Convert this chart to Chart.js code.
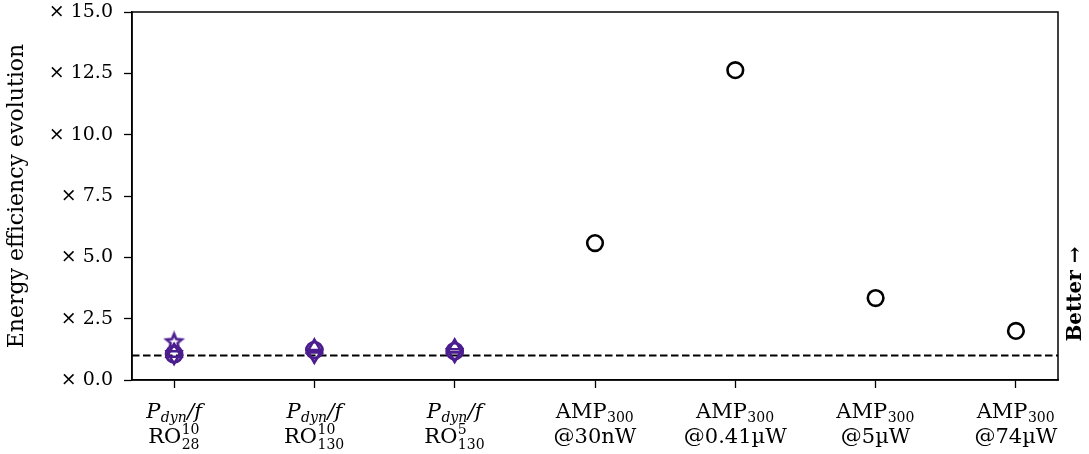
<!DOCTYPE html>
<html>
<head>
<meta charset="utf-8">
<script src="https://cdn.jsdelivr.net/npm/chart.js@4/dist/chart.umd.min.js"></script>
<style>
html,body{margin:0;padding:0;background:#fff;}
#wrap{width:1089px;height:454px;}
</style>
</head>
<body>
<div id="wrap"><canvas id="c" width="1089" height="454"></canvas></div>
<script>
// ---------- data ----------
const xPositions = [0, 1, 2, 3, 4, 5, 6];
// "$" toggles italic, _{..} subscript, ^{..} superscript, "|" separates the two lines
const categories = [
  '$P_{dyn}/f$|RO^{10}_{28}',
  '$P_{dyn}/f$|RO^{10}_{130}',
  '$P_{dyn}/f$|RO^{5}_{130}',
  'AMP_{300}|@30nW',
  'AMP_{300}|@0.41µW',
  'AMP_{300}|@5µW',
  'AMP_{300}|@74µW'
];
const ampValues   = [null, null, null, 5.58, 12.63, 3.34, 2.0];
const roCircle    = [1.05, 1.22, 1.18];
const roStar      = [1.55, null, null];
const roTriUp     = [1.12, 1.30, 1.30];
const roTriDown   = [1.00, 1.05, 1.08];
const baselineValue = 1.0;
const yTickValues = [0, 2.5, 5, 7.5, 10, 12.5, 15];
const yTitle = 'Energy efficiency evolution';
const betterText = 'Better →';

// ---------- styling ----------
const FONT = "'DejaVu Serif', 'Liberation Serif', serif";
const PURPLE = '#4b1d8f';

function toXY(arr) {
  const out = [];
  arr.forEach((v, i) => { if (v !== null) out.push({x: xPositions[i], y: v}); });
  return out;
}

function starCanvas(r, color, lw) {
  const s = Math.ceil(2 * r + lw + 4);
  const c = document.createElement('canvas');
  c.width = s; c.height = s;
  const g = c.getContext('2d');
  g.strokeStyle = color; g.lineWidth = lw; g.lineJoin = 'miter';
  g.beginPath();
  for (let k = 0; k < 10; k++) {
    const a = -Math.PI / 2 + k * Math.PI / 5;
    const rr = (k % 2) ? r * 0.45 : r;
    const px = s / 2 + rr * Math.cos(a), py = s / 2 + rr * Math.sin(a);
    if (k) g.lineTo(px, py); else g.moveTo(px, py);
  }
  g.closePath(); g.stroke();
  return c;
}

// rich text parsing for x labels
function parseLine(str) {
  const segs = [];
  let italic = false, i = 0, buf = '';
  const flush = () => { if (buf) { segs.push({t: buf, italic, kind: 'n'}); buf = ''; } };
  while (i < str.length) {
    const ch = str[i];
    if (ch === '$') { flush(); italic = !italic; i++; continue; }
    if ((ch === '_' || ch === '^') && str[i + 1] === '{') {
      flush();
      const end = str.indexOf('}', i);
      const txt = str.slice(i + 2, end);
      const kind = ch === '_' ? 'sub' : 'sup';
      const last = segs[segs.length - 1];
      if (last && last.kind === 'script') { last[kind] = {t: txt, italic}; }
      else segs.push({kind: 'script', [kind]: {t: txt, italic}});
      i = end + 1; continue;
    }
    buf += ch; i++;
  }
  flush();
  return segs;
}

const MAIN_SIZE = 21, SCRIPT_SIZE = 14;
function fontStr(size, italic) { return (italic ? 'italic ' : '') + size + 'px ' + FONT; }
function segWidth(ctx, s) {
  if (s.kind === 'n') { ctx.font = fontStr(MAIN_SIZE, s.italic); return ctx.measureText(s.t).width; }
  let w = 0;
  ['sub', 'sup'].forEach(k => { if (s[k]) { ctx.font = fontStr(SCRIPT_SIZE, s[k].italic); w = Math.max(w, ctx.measureText(s[k].t).width); } });
  return w + 1;
}
function drawRich(ctx, str, cx, baseline) {
  const segs = parseLine(str);
  const total = segs.reduce((a, s) => a + segWidth(ctx, s), 0);
  let x = cx - total / 2;
  ctx.textAlign = 'left'; ctx.textBaseline = 'alphabetic'; ctx.fillStyle = '#000';
  segs.forEach(s => {
    const w = segWidth(ctx, s);
    if (s.kind === 'n') { ctx.font = fontStr(MAIN_SIZE, s.italic); ctx.fillText(s.t, x, baseline); }
    else {
      const both = s.sub && s.sup;
      if (s.sub) { ctx.font = fontStr(SCRIPT_SIZE, s.sub.italic); ctx.fillText(s.sub.t, x + 0.5, baseline + (both ? 6 : 4)); }
      if (s.sup) { ctx.font = fontStr(SCRIPT_SIZE, s.sup.italic); ctx.fillText(s.sup.t, x + 0.5, baseline - 9); }
    }
    x += w;
  });
}

const decorPlugin = {
  id: 'decor',
  afterDraw(chart) {
    const {ctx, chartArea: a, scales} = chart;
    ctx.save();
    // frame (top and right spines)
    ctx.strokeStyle = '#000'; ctx.lineWidth = 1.5;
    ctx.strokeRect(a.left, a.top, a.right - a.left, a.bottom - a.top);
    // x labels
    categories.forEach((c, i) => {
      const px = scales.x.getPixelForValue(xPositions[i]);
      const lines = c.split('|');
      drawRich(ctx, lines[0], px, 418);
      drawRich(ctx, lines[1], px, 443);
    });
    // "Better →"
    ctx.translate(1076, 294);
    ctx.rotate(-Math.PI / 2);
    ctx.font = 'bold 20px ' + FONT;
    ctx.fillStyle = '#000';
    ctx.textAlign = 'center'; ctx.textBaseline = 'middle';
    ctx.fillText(betterText, 0, 0);
    ctx.restore();
  }
};

const tickGrid = {display: true, drawOnChartArea: false, drawTicks: true, tickLength: 8, tickWidth: 1.3, tickColor: '#000', color: '#000'};

new Chart(document.getElementById('c'), {
  type: 'scatter',
  data: {
    datasets: [
      {
        type: 'line', data: [{x: -0.3, y: baselineValue}, {x: 6.3, y: baselineValue}],
        borderColor: '#000', borderWidth: 2, borderDash: [7.5, 3.5], pointRadius: 0, showLine: true, fill: false, order: 10
      },
      { data: toXY(ampValues), pointStyle: 'circle', pointRadius: 7.8, borderWidth: 2.6, borderColor: '#000', backgroundColor: 'rgba(0,0,0,0)' },
      { data: toXY(roCircle), pointStyle: 'circle', pointRadius: 8, borderWidth: 2.8, borderColor: PURPLE, backgroundColor: 'rgba(0,0,0,0)' },
      { data: toXY(roTriUp), pointStyle: 'triangle', pointRadius: 8.5, borderWidth: 2.6, borderColor: PURPLE, backgroundColor: 'rgba(0,0,0,0)' },
      { data: toXY(roTriDown), pointStyle: 'triangle', rotation: 180, pointRadius: 8.5, borderWidth: 2.6, borderColor: PURPLE, backgroundColor: 'rgba(0,0,0,0)' },
      { data: toXY(roStar), pointStyle: starCanvas(8, PURPLE, 2.6), pointRadius: 8, borderColor: PURPLE, backgroundColor: 'rgba(0,0,0,0)' }
    ]
  },
  options: {
    responsive: false, animation: false, devicePixelRatio: 1,
    layout: {padding: {left: 0, right: 31, top: 12, bottom: 0}},
    plugins: {legend: {display: false}, tooltip: {enabled: false}},
    scales: {
      x: {
        type: 'linear', min: -0.3, max: 6.3,
        afterBuildTicks: s => { s.ticks = xPositions.map(v => ({value: v})); },
        ticks: {callback: () => '', font: {family: FONT, size: 19}},
        grid: tickGrid,
        border: {display: true, color: '#000', width: 1.5},
        afterFit: s => { s.height = 74; s.paddingLeft = 0; s.paddingRight = 0; }
      },
      y: {
        min: 0, max: 15,
        afterBuildTicks: s => { s.ticks = yTickValues.map(v => ({value: v})); },
        ticks: {callback: v => '× ' + Number(v).toFixed(1), color: '#000', font: {family: FONT, size: 19}, padding: 11},
        grid: tickGrid,
        border: {display: true, color: '#000', width: 1.5},
        title: {display: true, text: yTitle, color: '#000', font: {family: FONT, size: 22}, padding: {top: 4, bottom: 0}},
        afterFit: s => { s.width = 132; s.paddingTop = 0; s.paddingBottom = 0; }
      }
    }
  },
  plugins: [decorPlugin]
});
</script>
</body>
</html>
